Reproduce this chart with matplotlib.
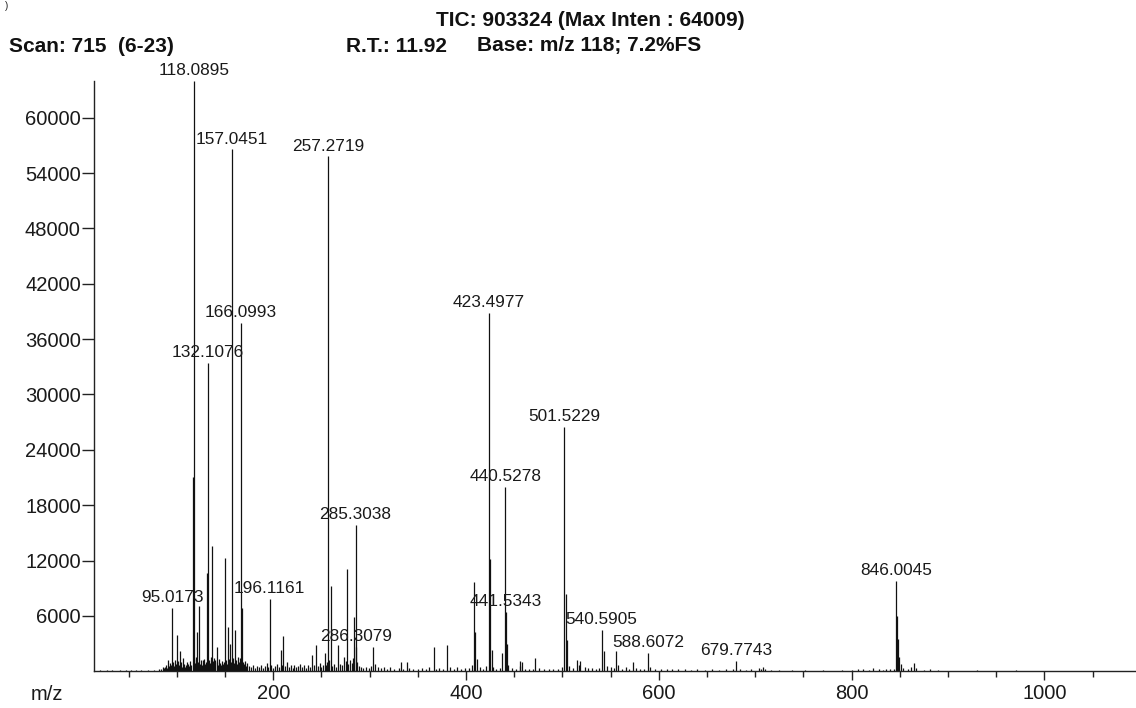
import matplotlib
matplotlib.use('Agg')
import matplotlib.pyplot as plt
from matplotlib.ticker import FixedLocator, MultipleLocator

plt.rcParams['font.family'] = ['Liberation Sans', 'DejaVu Sans']

# ---- data -------------------------------------------------------------
# labelled peaks (m/z, intensity)
label_mz = [95.0173, 118.0895, 132.1076, 157.0451, 166.0993, 196.1161,
            257.2719, 285.3038, 286.3079, 423.4977, 440.5278, 441.5343,
            501.5229, 540.5905, 588.6072, 679.7743, 846.0045]
label_int = [6870, 64009, 33450, 56560, 37790, 7840,
             55800, 15870, 2670, 38880, 20000, 6430,
             26530, 4480, 2000, 1100, 9800]

# other prominent peaks
peak_mz = [88, 91, 100.3, 103, 106, 116.9, 121, 123.2, 127, 131.2, 136.3,
           141.3, 150.1, 153.2, 155, 160.4, 163, 167.8, 207.7, 210.4, 240,
           244.4, 253.5, 259.7, 267, 273.5, 276.3, 284.2, 303.8, 332.5,
           338.7, 366.4, 380.3, 408.7, 409.7, 411, 424.6, 426.5, 437.3, 442.5,
           455.5, 457.8, 471.8, 503.3, 505, 514.6, 518.5, 543, 555.6, 572.7,
           707.8, 806.6, 822, 836, 847.0, 848.0, 849.0, 865, 881]
peak_int = [500, 1200, 3940, 2150, 1440, 21100, 4300, 7050, 1200, 10600, 13600,
            2670, 12330, 4850, 3000, 4450, 1600, 6900, 2300, 3830, 1770,
            2850, 2000, 9260, 2900, 1590, 11100, 5930, 2600, 1040,
            980, 2670, 2850, 9720, 4300, 1300, 12150, 2300, 2000, 3000,
            1100, 1000, 1440, 8350, 3400, 1200, 1100, 2240, 2240, 1000,
            450, 300, 350, 300, 6000, 3500, 1500, 930, 300]

# low-level baseline peaks
noise = [
    (20, 120), (27, 100), (33, 150), (41, 120), (47, 100), (52, 180), (58, 120),
    (63, 150), (70, 100), (76, 130), (81, 200),
    (84, 300), (86, 500), (87, 350), (89, 700), (90, 400), (92, 600), (93, 900),
    (94, 700), (96, 1000), (97, 600), (98, 1200), (99, 800), (101, 1100),
    (102, 700), (104, 1000), (105, 500), (107, 800), (108, 450), (109, 700),
    (110, 1000), (111, 500), (112, 800), (113, 600), (114, 1100), (115, 700),
    (117.6, 1300), (119.2, 900), (120, 1500), (122, 1000), (124, 800),
    (125, 1200), (126, 700), (128, 1300), (129, 800), (130, 1000), (133, 1200),
    (134, 900), (135, 1600), (137, 1100), (138, 1400), (139, 800), (140, 1200),
    (142, 1000), (143, 700), (144, 1300), (145, 900), (146, 700), (147, 1100),
    (148, 800), (149, 1000), (151, 1200), (152, 800), (154, 1300), (156, 1000),
    (158, 1400), (159, 900), (161, 1200), (162, 800), (164, 1000), (165, 1400),
    (169, 1000), (170, 800), (171, 1100), (172, 600), (173, 900), (175, 600),
    (177, 500), (179, 700), (181, 400), (183, 600), (185, 500), (187, 700),
    (189, 400), (191, 600), (193, 900), (195, 500), (198, 700), (200, 400),
    (202, 600), (204, 800), (206, 500), (209, 700), (212, 600), (214, 1000),
    (216, 500), (218, 700), (220, 400), (222, 700), (224, 500), (226, 600),
    (228, 800), (230, 500), (232, 700), (234, 400), (236, 700), (238, 500),
    (242, 700), (246, 600), (248, 900), (250, 500), (252, 700), (255, 700),
    (256, 1000), (258, 1200), (261, 600), (263, 800), (265, 500), (269, 800),
    (271, 700), (275, 1100), (278, 800), (280, 1200), (282, 900), (283, 1400),
    (287, 1000), (289, 600), (291, 450), (293, 350), (296, 500), (299, 350),
    (301, 600), (306, 800), (309, 450), (312, 350), (315, 500), (318, 300),
    (321, 450), (325, 300), (330, 350), (335, 300), (341, 350), (345, 250),
    (350, 300), (354, 400), (358, 250), (362, 500), (369, 300), (372, 350),
    (376, 300), (383, 450), (387, 300), (391, 500), (395, 300), (399, 350),
    (403, 400), (406, 700), (414, 500), (418, 300), (421, 600), (428, 500),
    (431, 300), (435, 400), (444, 700), (448, 400), (452, 300), (456, 600),
    (461, 250), (465, 300), (469, 250), (476, 400), (481, 300), (486, 250),
    (490, 300), (495, 250), (499, 500), (507, 600), (511, 400), (517, 700),
    (523, 500), (527, 400), (531, 350), (535, 300), (538, 400), (546, 600),
    (550, 500), (553, 400), (558, 700), (562, 300), (566, 500), (569, 300),
    (576, 400), (580, 250), (585, 300), (591, 500), (596, 250), (602, 200),
    (608, 250), (614, 200), (620, 300), (627, 200), (633, 150), (640, 200),
    (648, 150), (655, 200), (662, 150), (670, 200), (677, 300), (684, 200),
    (690, 150), (696, 200), (704, 350), (706, 300), (710, 250), (716, 150),
    (725, 120), (738, 100), (752, 120), (770, 100), (790, 100), (800, 150),
    (812, 200), (818, 150), (828, 250), (833, 150), (840, 200), (844, 300),
    (851, 800), (853, 400), (858, 200), (862, 500), (867, 400), (875, 150),
    (890, 120), (930, 100), (970, 100),
]
noise_mz = [p[0] for p in noise]
noise_int = [p[1] for p in noise]

ytick_vals = [6000, 12000, 18000, 24000, 30000, 36000, 42000, 48000, 54000, 60000]
xtick_vals = [200, 400, 600, 800, 1000]

# ---- figure -----------------------------------------------------------
W, H = 1136, 708
fig = plt.figure(figsize=(W / 100, H / 100), dpi=100)
ax = fig.add_axes([94 / W, (H - 671.3) / H, 1 - 94 / W, (671.3 - 80.7) / H])

line_col = '#111111'
ax.vlines(noise_mz, 0, noise_int, colors=line_col, linewidth=0.9)
ax.vlines(peak_mz, 0, peak_int, colors=line_col, linewidth=0.9)
ax.vlines(label_mz, 0, label_int, colors=line_col, linewidth=0.9)

for mz, inten in zip(label_mz, label_int):
    ax.annotate(f'{mz:.4f}', (mz, inten), xytext=(0, 2.0),
                textcoords='offset points', ha='center', va='bottom',
                fontsize=12.4, color='#1a1a1a', annotation_clip=False)

ax.set_xlim(14, 1095)
ax.set_ylim(0, 64009)

for s in ['top', 'right']:
    ax.spines[s].set_visible(False)
for s in ['left', 'bottom']:
    ax.spines[s].set_linewidth(1.0)
    ax.spines[s].set_color('#222222')

ax.yaxis.set_major_locator(FixedLocator(ytick_vals))
ax.set_yticklabels([str(v) for v in ytick_vals])
ax.xaxis.set_major_locator(FixedLocator(xtick_vals))
ax.set_xticklabels([str(v) for v in xtick_vals])
ax.xaxis.set_minor_locator(MultipleLocator(50))

ax.tick_params(axis='y', direction='out', length=8.5, width=1.0, pad=1,
               labelsize=14.5, color='#222222', labelcolor='#1a1a1a')
ax.tick_params(axis='x', which='major', direction='out', length=6.5, width=1.0,
               pad=3, labelsize=14.5, color='#222222', labelcolor='#1a1a1a')
ax.tick_params(axis='x', which='minor', direction='out', length=4, width=1.0,
               color='#222222')

# ---- header texts -----------------------------------------------------
def px(x, y):
    return x / W, 1 - y / H

fig.text(*px(745, 20), 'TIC: 903324 (Max Inten : 64009)', ha='right', va='center',
         fontsize=15, fontweight='bold', color='#111111')
fig.text(*px(9, 46), 'Scan: 715  (6-23)', ha='left', va='center',
         fontsize=15, fontweight='bold', color='#111111')
fig.text(*px(346, 46), 'R.T.: 11.92', ha='left', va='center',
         fontsize=15, fontweight='bold', color='#111111')
fig.text(*px(477, 46), 'Base: m/z 118; 7.2%FS', ha='left', va='center',
         fontsize=15, fontweight='bold', color='#111111')
fig.text(*px(47, 694), 'm/z', ha='center', va='center', fontsize=14.5,
         color='#1a1a1a')
fig.text(*px(5, 1), ')', ha='left', va='top', fontsize=7, color='#222222')

fig.savefig('out.png', dpi=100)
